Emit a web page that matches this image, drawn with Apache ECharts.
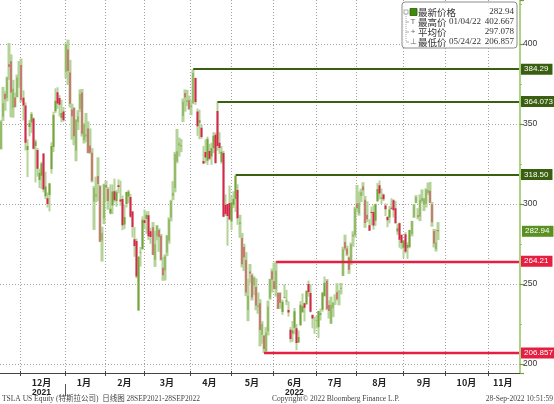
<!DOCTYPE html>
<html><head><meta charset="utf-8">
<script src="https://cdn.jsdelivr.net/npm/echarts@6/dist/echarts.min.js"></script>
<style>html,body{margin:0;padding:0;background:#fff}#c{width:554px;height:404px}</style>
</head><body><div id="c"></div>
<script>
// [date, open, close, low, high]  (split-adjusted)
const ohlc = [
['2021-11-16',334.4,351.6,334.1,352.4],['2021-11-17',354.5,363.0,351.8,373.2],['2021-11-18',368.9,365.5,358.3,370.7],
['2021-11-19',366.3,379.0,364.2,379.6],['2021-11-22',387.4,385.6,377.5,400.6],['2021-11-23',389.2,369.7,354.2,393.5],
['2021-11-24',360.1,372.0,354.0,377.6],['2021-11-26',366.5,360.6,360.3,369.6],['2021-11-29',366.7,379.0,366.7,380.9],
['2021-11-30',381.5,381.6,372.7,389.3],
['2021-12-01',386.9,365.0,363.6,390.9],['2021-12-02',366.4,361.5,352.2,371.0],['2021-12-03',361.6,338.3,333.4,363.5],
['2021-12-06',333.8,336.3,316.8,340.5],['2021-12-07',348.1,350.6,342.3,352.6],['2021-12-08',350.9,356.3,344.3,357.5],
['2021-12-09',353.5,334.6,334.1,354.2],['2021-12-10',336.3,339.0,313.5,340.3],['2021-12-13',333.7,322.1,317.1,335.0],
['2021-12-14',315.0,319.5,310.0,322.1],['2021-12-15',317.7,325.3,309.4,326.3],['2021-12-16',331.5,309.0,307.3,331.7],
['2021-12-17',304.9,310.9,303.0,320.2],['2021-12-20',303.6,300.0,297.8,307.2],['2021-12-21',305.6,312.8,295.4,313.2],
['2021-12-22',321.9,336.3,319.0,338.6],['2021-12-23',335.6,355.7,332.5,357.7],['2021-12-27',357.9,364.6,356.9,372.3],
['2021-12-28',369.8,362.8,359.5,373.0],['2021-12-29',366.2,362.1,354.7,368.0],['2021-12-30',353.8,356.8,351.1,365.2],
['2021-12-31',357.8,352.3,351.5,360.7],
['2022-01-03',382.6,399.9,378.7,400.4],['2022-01-04',396.5,383.2,374.4,402.7],['2022-01-05',382.2,362.7,360.3,390.1],
['2022-01-06',359.0,354.9,340.2,362.7],['2022-01-07',360.1,342.3,336.7,360.3],['2022-01-10',333.3,352.7,326.7,353.0],
['2022-01-11',351.2,354.8,346.3,358.6],['2022-01-12',359.6,368.7,357.5,371.6],['2022-01-13',369.7,343.9,342.2,371.9],
['2022-01-14',340.0,349.9,337.8,350.7],['2022-01-18',342.2,343.5,338.7,356.9],['2022-01-19',347.2,331.9,331.7,351.6],
['2022-01-20',336.6,332.1,331.3,347.2],['2022-01-21',332.1,314.6,313.5,334.9],['2022-01-24',301.6,310.0,283.8,311.2],
['2022-01-25',304.7,306.1,301.1,317.1],['2022-01-26',317.5,312.5,302.0,329.2],['2022-01-27',311.1,276.4,276.3,311.8],
['2022-01-28',277.2,282.1,264.0,285.8],['2022-01-31',290.9,312.2,287.4,312.7],
['2022-02-01',311.7,310.4,301.7,314.6],['2022-02-02',309.4,301.9,296.5,310.5],['2022-02-03',294.0,297.0,293.5,312.3],
['2022-02-04',299.1,307.8,293.7,312.2],['2022-02-07',307.9,302.4,300.9,315.9],['2022-02-08',301.8,307.3,298.3,308.8],
['2022-02-09',311.7,310.7,306.7,315.4],['2022-02-10',302.8,301.5,298.9,314.6],['2022-02-11',303.2,286.7,283.6,305.3],
['2022-02-14',287.2,291.9,284.4,299.6],['2022-02-15',300.0,307.5,297.8,307.7],['2022-02-16',304.7,307.8,300.4,308.8],
['2022-02-17',304.4,292.1,291.4,306.2],['2022-02-18',295.3,285.7,279.2,295.6],['2022-02-22',278.0,273.8,267.0,285.6],
['2022-02-23',276.8,254.7,253.5,278.4],['2022-02-24',233.5,266.9,233.3,267.5],['2022-02-25',269.7,270.0,260.8,273.2],
['2022-02-28',271.7,290.1,271.6,292.3],
['2022-03-01',289.9,288.1,284.6,296.6],['2022-03-02',290.7,293.3,281.4,295.5],['2022-03-03',292.9,279.8,277.5,295.5],
['2022-03-04',283.0,279.4,275.1,285.2],['2022-03-07',285.4,268.2,268.2,288.7],['2022-03-08',265.2,274.8,260.7,283.3],
['2022-03-09',279.8,286.3,277.3,286.9],['2022-03-10',283.8,279.4,270.1,284.8],['2022-03-11',280.1,265.1,264.6,281.3],
['2022-03-14',260.2,255.5,252.0,266.9],['2022-03-15',258.4,267.3,252.2,268.5],['2022-03-16',269.7,280.1,267.4,280.7],
['2022-03-17',277.0,290.5,275.2,291.7],['2022-03-18',291.5,301.8,289.1,302.6],['2022-03-21',305.0,307.1,302.4,314.3],
['2022-03-22',310.0,331.3,307.3,332.6],['2022-03-23',326.6,333.0,325.5,346.9],['2022-03-24',336.6,338.0,329.6,341.5],
['2022-03-25',336.0,336.9,332.4,340.6],['2022-03-28',355.0,363.9,351.2,366.0],['2022-03-29',369.3,366.5,357.7,371.6],
['2022-03-30',363.7,364.7,361.3,371.3],['2022-03-31',364.9,359.2,358.9,367.7],
['2022-04-01',360.4,361.5,355.5,364.9],['2022-04-04',363.1,381.8,362.4,384.3],['2022-04-05',378.8,363.8,362.0,379.0],
['2022-04-06',357.8,348.6,342.6,359.7],['2022-04-07',350.8,352.4,340.5,358.9],['2022-04-08',347.7,341.8,340.8,349.5],
['2022-04-11',326.8,325.3,324.9,336.2],['2022-04-12',332.5,329.0,325.5,340.4],['2022-04-13',327.0,340.8,324.4,342.1],
['2022-04-14',333.1,328.3,327.4,337.6],['2022-04-18',329.7,334.8,324.5,338.3],['2022-04-19',335.0,342.7,331.8,345.0],
['2022-04-20',343.3,325.7,325.1,344.7],['2022-04-21',358.2,336.3,333.3,364.1],['2022-04-22',338.3,335.0,331.3,344.9],
['2022-04-25',326.3,332.7,325.1,336.2],['2022-04-26',331.8,292.1,291.7,333.3],['2022-04-27',299.5,293.8,292.5,306.0],
['2022-04-28',300.0,292.5,273.9,300.0],['2022-04-29',300.7,290.3,290.0,311.5],
['2022-05-02',289.0,301.0,283.7,305.3],['2022-05-03',299.5,303.1,297.5,308.0],['2022-05-04',303.2,317.5,295.0,318.5],
['2022-05-05',308.8,291.1,287.0,312.3],['2022-05-06',287.4,288.6,278.9,293.3],['2022-05-09',278.8,262.4,260.4,281.9],
['2022-05-10',273.1,266.7,258.1,275.1],['2022-05-11',265.0,244.7,242.4,269.9],['2022-05-12',233.7,242.7,226.7,253.2],
['2022-05-13',257.8,256.5,250.5,262.5],['2022-05-16',255.7,241.5,239.7,256.6],['2022-05-17',249.1,253.9,243.0,254.8],
['2022-05-18',248.2,236.6,233.6,253.5],['2022-05-19',235.7,236.5,231.4,244.7],['2022-05-20',238.0,221.3,211.0,240.5],
['2022-05-23',218.3,225.0,212.7,226.7],['2022-05-24',217.8,209.4,206.9,218.0],['2022-05-25',208.0,219.6,207.7,223.1],
['2022-05-26',220.5,235.9,217.9,239.6],['2022-05-27',241.1,253.2,240.2,253.3],['2022-05-31',257.9,252.8,244.7,259.6],
['2022-06-01',251.7,246.8,246.7,263.3],['2022-06-02',246.7,258.3,242.1,264.2],['2022-06-03',244.4,234.5,234.3,244.7],
['2022-06-06',244.3,238.3,234.5,244.9],['2022-06-07',232.5,238.9,230.7,240.1],['2022-06-08',241.4,241.9,241.1,249.8],
['2022-06-09',239.0,239.7,236.8,246.3],['2022-06-10',233.7,232.2,229.6,239.1],['2022-06-13',221.4,215.7,213.5,223.1],
['2022-06-14',219.0,220.9,213.8,226.9],['2022-06-15',222.7,233.0,218.5,235.0],['2022-06-16',222.4,213.1,208.7,225.0],
['2022-06-17',213.4,216.8,213.2,221.0],['2022-06-21',224.4,237.0,223.7,239.3],['2022-06-22',232.3,236.1,232.1,244.1],
['2022-06-23',237.9,235.1,226.6,238.3],['2022-06-24',237.5,245.7,236.8,246.1],['2022-06-27',250.0,244.9,242.1,252.1],
['2022-06-28',244.3,232.7,232.2,249.9],['2022-06-29',230.7,228.5,222.3,231.0],['2022-06-30',224.5,224.5,218.9,229.5],
['2022-07-01',227.0,227.3,222.1,230.2],['2022-07-05',223.0,233.1,216.2,233.1],['2022-07-06',230.8,231.7,227.2,234.6],
['2022-07-07',233.9,244.5,232.7,245.1],['2022-07-08',242.3,250.8,242.3,254.7],['2022-07-11',252.1,234.3,233.6,253.1],
['2022-07-12',236.8,233.1,228.4,239.8],['2022-07-13',225.5,237.0,225.0,242.1],['2022-07-14',234.9,238.3,229.3,238.7],
['2022-07-15',240.0,240.1,236.9,243.6],['2022-07-18',244.9,240.5,239.6,250.5],['2022-07-19',245.0,245.5,236.7,246.0],
['2022-07-20',246.8,247.5,243.5,250.7],['2022-07-21',255.1,271.7,254.9,273.3],['2022-07-22',276.2,272.2,270.7,280.8],
['2022-07-25',272.2,268.4,267.5,274.0],['2022-07-26',266.5,258.9,256.3,267.3],['2022-07-27',263.9,274.8,261.8,275.9],
['2022-07-28',279.7,280.9,273.3,283.0],['2022-07-29',280.7,297.2,279.1,298.3],
['2022-08-01',300.3,297.3,295.0,311.9],['2022-08-02',294.0,300.6,292.7,307.8],['2022-08-03',305.0,307.4,301.2,309.6],
['2022-08-04',311.0,308.6,305.0,313.6],['2022-08-05',302.7,288.2,285.1,305.0],['2022-08-08',293.3,290.4,288.7,301.7],
['2022-08-09',286.7,283.3,283.3,290.5],['2022-08-10',295.0,294.4,286.7,298.3],['2022-08-11',295.0,286.6,284.0,299.3],
['2022-08-12',289.5,300.0,286.3,300.2],['2022-08-15',301.8,309.3,301.2,313.1],['2022-08-16',311.7,306.6,302.9,314.7],
['2022-08-17',303.4,304.0,300.0,309.7],['2022-08-18',306.0,302.9,301.9,306.5],['2022-08-19',299.0,296.7,292.5,300.4],
['2022-08-22',291.8,289.9,285.5,292.5],['2022-08-23',291.5,296.5,287.9,298.8],['2022-08-24',297.6,297.1,296.5,303.6],
['2022-08-25',302.4,296.1,291.6,303.0],['2022-08-26',297.4,288.1,287.5,302.0],['2022-08-29',282.8,284.8,280.7,287.7],
['2022-08-30',287.9,277.7,272.7,288.5],['2022-08-31',280.6,275.6,271.8,281.3],
['2022-09-01',272.6,277.2,266.2,277.6],['2022-09-02',281.1,270.2,269.1,282.4],['2022-09-06',272.7,274.4,265.7,276.0],
['2022-09-07',273.1,283.7,272.3,283.8],['2022-09-08',281.3,289.3,279.8,289.5],['2022-09-09',291.7,299.7,291.3,299.9],
['2022-09-12',300.7,304.4,300.4,305.5],['2022-09-13',292.9,292.1,290.4,297.4],['2022-09-14',292.2,302.6,289.3,306.0],
['2022-09-15',301.8,303.8,300.7,309.1],['2022-09-16',299.6,303.4,295.6,303.7],['2022-09-19',300.1,309.1,297.8,309.8],
['2022-09-20',306.9,308.7,305.6,313.3],['2022-09-21',308.3,300.8,300.6,313.8],['2022-09-22',299.9,288.6,285.8,301.3],
['2022-09-23',283.1,275.3,272.8,284.5],['2022-09-26',271.8,276.0,270.3,284.1],['2022-09-27',283.8,282.94,277.5,288.7]
];
// empty future trading days shown on the axis
const futureDates = ['2022-09-28','2022-09-29','2022-09-30',
'2022-10-03','2022-10-04','2022-10-05','2022-10-06','2022-10-07','2022-10-10','2022-10-11','2022-10-12','2022-10-13','2022-10-14',
'2022-10-17','2022-10-18','2022-10-19','2022-10-20','2022-10-21','2022-10-24','2022-10-25','2022-10-26','2022-10-27','2022-10-28','2022-10-31',
'2022-11-01','2022-11-02','2022-11-03','2022-11-04','2022-11-07','2022-11-08','2022-11-09','2022-11-10','2022-11-11',
'2022-11-14','2022-11-15','2022-11-16','2022-11-17','2022-11-18','2022-11-21','2022-11-22'];

const monthKeys = ['2021-12','2022-01','2022-02','2022-03','2022-04','2022-05','2022-06','2022-07','2022-08','2022-09','2022-10','2022-11'];
const monthNames = ['12月','1月','2月','3月','4月','5月','6月','7月','8月','9月','10月','11月'];
const yearKeys = ['2021-12','2022-06'];
const yearNames = ['2021','2022'];
const yearBreakDate = '2022-01-03';

const levelDates  = ['2022-04-04','2022-04-21','2022-05-04','2022-06-02','2022-05-24'];
const levelValues = [384.29, 364.073, 318.50, 264.21, 206.857];
const levelLabels = ['384.29','364.073','318.50','264.21','206.857'];
const levelKinds  = ['hi','hi','hi','lo','lo'];
const lastPrice = 282.94, lastPriceLabel = '282.94';

const legendNames  = ['最新价格','最高价','平均价','最低价'];
const legendDates  = ['','01/04/22','','05/24/22'];
const legendValues = ['282.94','402.667','297.078','206.857'];
const legendIcons  = ['','T','+','⊥'];

const footerLeft  = 'TSLA US Equity (特斯拉公司)  日线图 28SEP2021-28SEP2022';
const footerMid   = 'Copyright© 2022 Bloomberg Finance L.P.';
const footerRight = '28-Sep-2022 10:51:59';

const Y_MIN = 194.375, Y_MAX = 427.5;

const dates = ohlc.map(r => r[0]).concat(futureDates);
const lastDate = dates[dates.length - 1];
const monthOf = d => d.slice(0, 7);
const monthStartDates = dates.filter((d, i) => i > 0 && monthOf(d) !== monthOf(dates[i - 1]));
const labelIdx = {};
monthKeys.forEach(k => {
  const idx = dates.map((d, i) => monthOf(d) === k ? i : -1).filter(i => i >= 0);
  labelIdx[idx[Math.floor((idx.length - 1) / 2)]] = k;
});

const GREEN_DK = '#3b5f10', RED = '#e41f41';
const tagLabel = (txt, bg) => ({show: true, position: 'end', formatter: txt, color: '#fff', backgroundColor: bg,
  fontSize: 8, fontFamily: 'Liberation Sans, Arial', padding: [2, 4, 1, 3], distance: 2});
const lineData = [];
levelDates.forEach((d, i) => {
  const c = levelKinds[i] === 'hi' ? GREEN_DK : RED;
  const st = {lineStyle: {color: c, width: levelKinds[i] === 'hi' ? 2.2 : 2.4, type: 'solid'}, label: tagLabel(levelLabels[i], c)};
  lineData.push([Object.assign({coord: [d, levelValues[i]]}, st), Object.assign({coord: [lastDate, levelValues[i]]}, st)]);
});
lineData.push({yAxis: lastPrice, lineStyle: {color: 'rgba(0,0,0,0)', width: 1}, label: tagLabel(lastPriceLabel, '#5b9122')});

const chart = echarts.init(document.getElementById('c'), null, {renderer: 'canvas'});

chart.setOption({
  animation: false,
  backgroundColor: '#fff',
  grid: {left: 0, right: 34, top: 0, bottom: 31, containLabel: false},
  xAxis: {
    type: 'category', data: dates, boundaryGap: true,
    axisLine: {show: true, lineStyle: {color: '#444', width: 1}},
    axisTick: {show: false}, splitLine: {show: false},
    axisLabel: {
      show: true, interval: (i) => labelIdx[i] !== undefined, margin: 4,
      formatter: (v, i) => {
        const k = labelIdx[i];
        const mi = monthKeys.indexOf(k);
        const yi = yearKeys.indexOf(k);
        return yi >= 0 ? '{m|' + monthNames[mi] + '}\n{y|' + yearNames[yi] + '}' : '{m|' + monthNames[mi] + '}';
      },
      rich: {
        m: {fontSize: 9, fontWeight: 'bold', color: '#222', fontFamily: 'Noto Sans CJK SC', lineHeight: 11},
        y: {fontSize: 8.5, fontWeight: 'bold', color: '#222', fontFamily: 'Liberation Sans', lineHeight: 10}
      }
    }
  },
  yAxis: {
    type: 'value', position: 'right', min: Y_MIN, max: Y_MAX,
    axisLine: {show: true, lineStyle: {color: '#93c35c', width: 1.5}},
    axisTick: {show: true, length: 4, lineStyle: {color: '#6f9f36', width: 1.2}},
    minorTick: {show: true, splitNumber: 2, length: 2, lineStyle: {color: '#93c35c'}},
    axisLabel: {color: '#333', fontSize: 8.5, margin: 3, fontFamily: 'Liberation Sans, Arial', showMinLabel: false, showMaxLabel: false},
    splitLine: {show: true, showMinLine: false, showMaxLine: false, lineStyle: {color: '#a3a3a3', type: [1, 2], width: 1}}
  },
  series: [{
    type: 'candlestick', name: 'range', silent: true, z: 2, barWidth: 3,
    data: ohlc.map(r => [r[3], r[4], r[3], r[4]]),
    itemStyle: {color: '#b4d398', color0: '#b4d398', borderWidth: 0, borderColor: '#b4d398', borderColor0: '#b4d398'}
  }, {
    type: 'candlestick', name: 'body', silent: true, z: 3, barWidth: 2,
    data: ohlc.map(r => [r[1], r[2], r[3], r[4]]),
    itemStyle: {color: '#76a33d', color0: '#d9244d', borderWidth: 0, borderColor: '#76a33d', borderColor0: '#d9244d'},
    markLine: {symbol: 'none', silent: true, animation: false, data: lineData}
  }]
});

// legend box, footer, month grid lines and ticks (x positions from the axis scale)
const lgX = 402, lgY = 2;
const legendChildren = [
  {type: 'rect', shape: {x: 0, y: 0, width: 115, height: 46, r: 3}, style: {fill: 'rgba(255,255,255,0.82)', stroke: '#8c8c8c', lineWidth: 1}},
  {type: 'line', shape: {x1: 4, y1: 12, x2: 4, y2: 40}, style: {stroke: '#aaa', lineWidth: 1, lineDash: [1, 1]}},
  {type: 'rect', shape: {x: 2, y: 8, width: 4, height: 4}, style: {fill: '#fff', stroke: '#999', lineWidth: 0.8}},
  {type: 'rect', shape: {x: 8, y: 6.5, width: 7, height: 7}, style: {fill: '#3f8a06', stroke: '#2c5d06', lineWidth: 0.8}}
];
legendNames.forEach((n, i) => {
  const cy = 10 + i * 10;
  if (i > 0) {
    legendChildren.push({type: 'line', shape: {x1: 4, y1: cy, x2: 7, y2: cy}, style: {stroke: '#aaa', lineWidth: 1}});
    legendChildren.push({type: 'text', x: 11, y: cy, style: {text: legendIcons[i], fill: '#666', font: '8px "Liberation Sans"', align: 'center', verticalAlign: 'middle'}});
  }
  legendChildren.push({type: 'text', x: 16, y: cy, style: {text: n, fill: '#333', font: '9.5px "Noto Sans CJK SC"', verticalAlign: 'middle'}});
  legendChildren.push({type: 'text', x: 47, y: cy, style: {text: legendDates[i], fill: '#333', font: '9px "Liberation Serif"', verticalAlign: 'middle'}});
  legendChildren.push({type: 'text', x: 112, y: cy, style: {text: legendValues[i], fill: '#333', font: '9px "Liberation Serif"', align: 'right', verticalAlign: 'middle'}});
});

const graphics = [];
try {
  const band = chart.convertToPixel({xAxisIndex: 0}, dates[1]) - chart.convertToPixel({xAxisIndex: 0}, dates[0]);
  const axisY = chart.convertToPixel({yAxisIndex: 0}, Y_MIN);
  const topY = chart.convertToPixel({yAxisIndex: 0}, Y_MAX);
  const edge = d => Math.round(chart.convertToPixel({xAxisIndex: 0}, d) - band / 2) + 0.5;
  monthStartDates.forEach(d => {
    const x = edge(d);
    graphics.push({type: 'line', z: -10, silent: true, shape: {x1: x, y1: topY, x2: x, y2: axisY},
      style: {stroke: '#a0a0a0', lineWidth: 1, lineDash: [1, 2]}});
    graphics.push({type: 'line', z: 50, silent: true, shape: {x1: x, y1: axisY - 2, x2: x, y2: axisY + 3},
      style: {stroke: '#444', lineWidth: 1}});
  });
  const yx = edge(yearBreakDate);
  graphics.push({type: 'line', z: 50, silent: true, shape: {x1: yx, y1: axisY + 11, x2: yx, y2: axisY + 23}, style: {stroke: '#555', lineWidth: 1}});
} catch (e) {}
graphics.push(
  {type: 'group', x: lgX, y: lgY, z: 100, children: legendChildren},
  {type: 'text', left: 2, top: 395, z: 100, style: {text: footerLeft, fill: '#444', font: '7.5px "Liberation Serif", "Noto Sans CJK SC"'}},
  {type: 'text', left: 272, top: 395, z: 100, style: {text: footerMid, fill: '#444', font: '7.5px "Liberation Serif"'}},
  {type: 'text', right: 1, top: 395, z: 100, style: {text: footerRight, fill: '#444', font: '7.5px "Liberation Serif"'}}
);
chart.setOption({graphic: graphics});
</script></body></html>
